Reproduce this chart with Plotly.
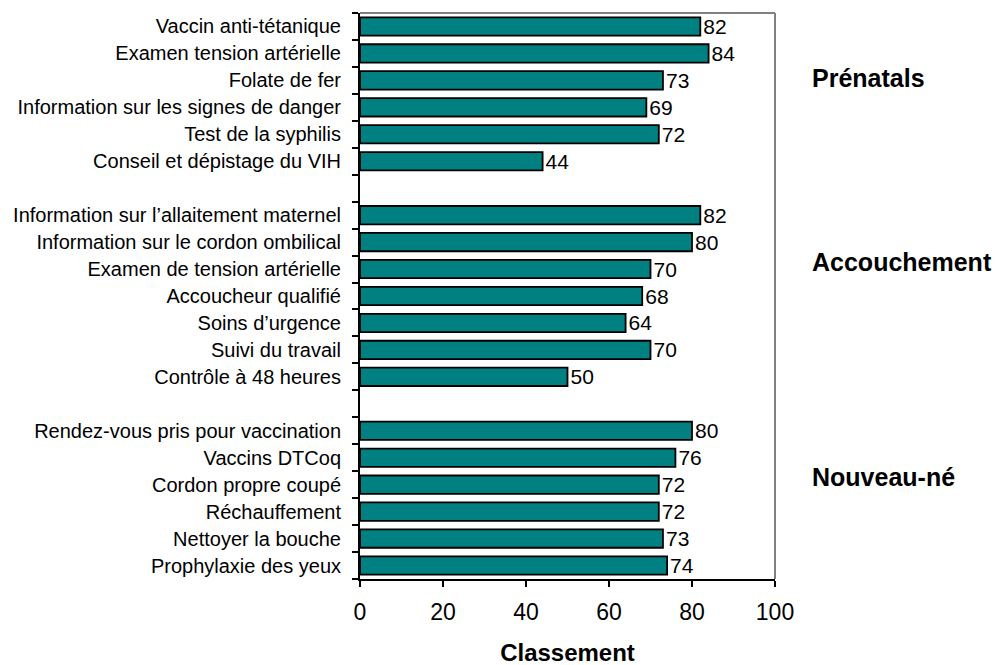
import plotly.graph_objects as go

categories = [
    "Vaccin anti-tétanique",
    "Examen tension artérielle",
    "Folate de fer",
    "Information sur les signes de danger",
    "Test de la syphilis",
    "Conseil et dépistage du VIH",
    "",
    "Information sur l’allaitement maternel",
    "Information sur le cordon ombilical",
    "Examen de tension artérielle",
    "Accoucheur qualifié",
    "Soins d’urgence",
    "Suivi du travail",
    "Contrôle à 48 heures",
    "",
    "Rendez-vous pris pour vaccination",
    "Vaccins DTCoq",
    "Cordon propre coupé",
    "Réchauffement",
    "Nettoyer la bouche",
    "Prophylaxie des yeux",
]
values = [82, 84, 73, 69, 72, 44, None,
          82, 80, 70, 68, 64, 70, 50, None,
          80, 76, 72, 72, 73, 74]
groups = ["Prénatals", "Accouchement", "Nouveau-né"]
group_pos = [1.91, 8.74, 16.72]
x_ticks = [0, 20, 40, 60, 80, 100]
x_title = "Classement"

positions = list(range(len(categories)))
bar_y = [p for p, v in zip(positions, values) if v is not None]
bar_x = [v for v in values if v is not None]

FONT = "Arial, Liberation Sans, sans-serif"

fig = go.Figure()
fig.add_trace(go.Bar(
    x=bar_x, y=bar_y, orientation="h",
    width=0.68,
    marker=dict(color="#008080", line=dict(color="black", width=1.8)),
    text=[str(v) for v in bar_x], textposition="outside",
    constraintext="none",
    textfont=dict(family=FONT, size=21, color="black"),
    cliponaxis=False,
))

for g, p in zip(groups, group_pos):
    fig.add_annotation(x=1.085, xref="paper", y=p, yref="y", text="<b>%s</b>" % g,
                       showarrow=False, xanchor="left", yanchor="middle",
                       font=dict(family=FONT, size=25, color="black"))

fig.add_shape(type="line", xref="paper", yref="paper", x0=0, x1=1, y0=1, y1=1,
              line=dict(color="#808080", width=2))
fig.add_shape(type="line", xref="paper", yref="paper", x0=1, x1=1, y0=0, y1=1,
              line=dict(color="#808080", width=2))

fig.update_layout(
    width=1005, height=665,
    margin=dict(l=346, r=238, t=5, b=94),
    paper_bgcolor="white", plot_bgcolor="white",
    showlegend=False,
    font=dict(family=FONT, color="black"),
    xaxis=dict(range=[0, 100], tickvals=x_ticks, ticks="outside", ticklen=6,
               tickwidth=2, tickcolor="black", showline=True, linecolor="black",
               linewidth=2, showgrid=False, zeroline=False, ticklabelstandoff=5,
               tickfont=dict(family=FONT, size=23, color="black"),
               title=dict(text="<b>%s</b>" % x_title, standoff=21,
                          font=dict(family=FONT, size=24, color="black"))),
    yaxis=dict(range=[20.5, -0.5], tickvals=positions, ticktext=categories,
               ticks="outside", ticklen=0, ticklabelstandoff=13,
               showline=True, linecolor="black", linewidth=2,
               showgrid=False, zeroline=False,
               tickfont=dict(family=FONT, size=20, color="black"),
               minor=dict(tick0=0.5, dtick=1, ticks="outside", ticklen=6,
                          tickwidth=2, tickcolor="black", showgrid=False)),
)

fig.write_html("out.html")
